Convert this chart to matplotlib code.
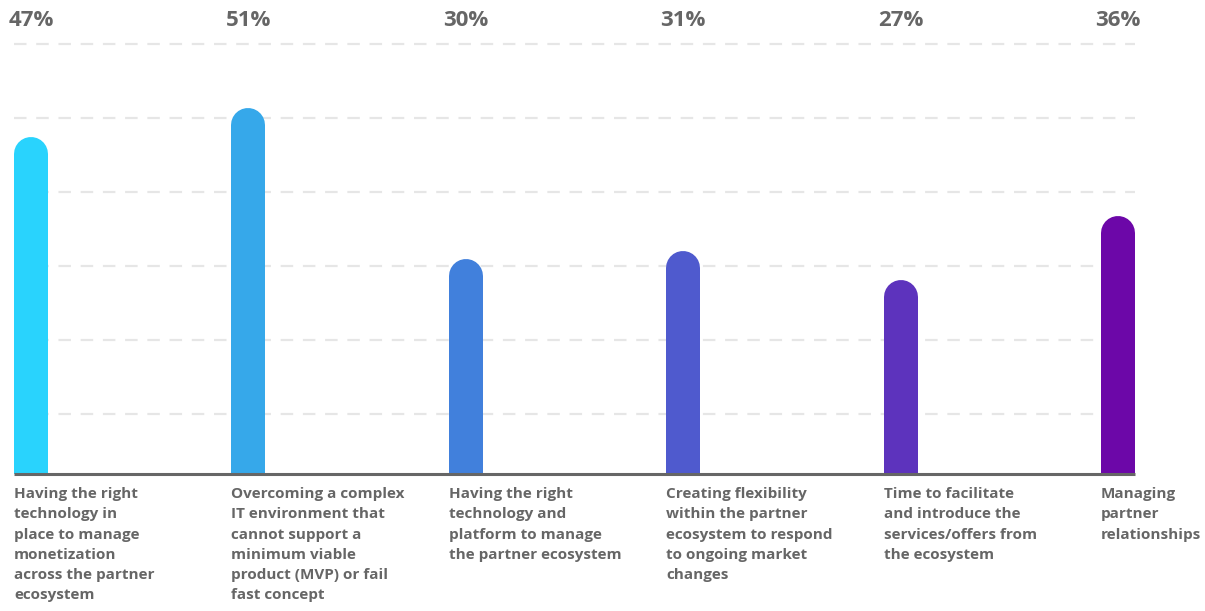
import matplotlib
matplotlib.use("Agg")
import matplotlib.pyplot as plt
from matplotlib.transforms import blended_transform_factory

plt.rcParams["font.family"] = ["Open Sans", "DejaVu Sans"]
plt.rcParams["lines.scale_dashes"] = False

categories = [
    "Having the right\ntechnology in\nplace to manage\nmonetization\nacross the partner\necosystem",
    "Overcoming a complex\nIT environment that\ncannot support a\nminimum viable\nproduct (MVP) or fail\nfast concept",
    "Having the right\ntechnology and\nplatform to manage\nthe partner ecosystem",
    "Creating flexibility\nwithin the partner\necosystem to respond\nto ongoing market\nchanges",
    "Time to facilitate\nand introduce the\nservices/offers from\nthe ecosystem",
    "Managing\npartner\nrelationships",
]
values = [47, 51, 30, 31, 27, 36]
colors = ["#29d3fd", "#36a8ea", "#4180dc", "#4f5ace", "#5d33bd", "#6c07a8"]
grid_levels = [8.4, 18.7, 29.0, 39.3, 49.6, 59.9]

W, H, DPI = 1205, 611, 100
PX_PER_UNIT = 7.18          # vertical pixels per percentage point
BASE_PX = 474               # baseline row, from top
SLOT_PX = 217.4             # distance between bar centres
FIRST_PX = 31               # centre of first bar
BAR_PX = 34                 # bar width

fig = plt.figure(figsize=(W / DPI, H / DPI), dpi=DPI)
ax = fig.add_axes([0, 1 - BASE_PX / H, 1, BASE_PX / H])
ax.set_xlim(-FIRST_PX / SLOT_PX, (W - FIRST_PX) / SLOT_PX)
ax.set_ylim(0, BASE_PX / PX_PER_UNIT)
ax.axis("off")

half_w = BAR_PX / SLOT_PX / 2
n = len(values)

# dashed guide lines behind the bars
ax.hlines(grid_levels, -half_w, n - 1 + half_w, colors="#e6e6e6",
          linewidth=1.6, linestyles=(0, (9, 7)), zorder=1)

# bars as thick lines with a rounded top; bottom cap is clipped by the axes
radius = BAR_PX / 2 / PX_PER_UNIT
lw_pt = BAR_PX * 72 / DPI
for i, (v, c) in enumerate(zip(values, colors)):
    ax.plot([i, i], [0, v - radius], color=c, lw=lw_pt,
            solid_capstyle="round", zorder=2)

ax.hlines(0, -half_w, n - 1 + half_w, colors="#666666", linewidth=2.2,
          zorder=3, clip_on=False)

trans = blended_transform_factory(ax.transData, fig.transFigure)
for i, v in enumerate(values):
    ax.text(i, 1 - 21 / H, f"{v}%", transform=trans, ha="center", va="center",
            fontsize=16, fontweight="bold", color="#666666")

for i, label in enumerate(categories):
    ax.text(i - half_w, 1 - 487 / H, label, transform=trans, ha="left", va="top",
            fontsize=11, fontweight="bold", color="#666666", linespacing=1.57)

fig.savefig("out.png", dpi=DPI)
